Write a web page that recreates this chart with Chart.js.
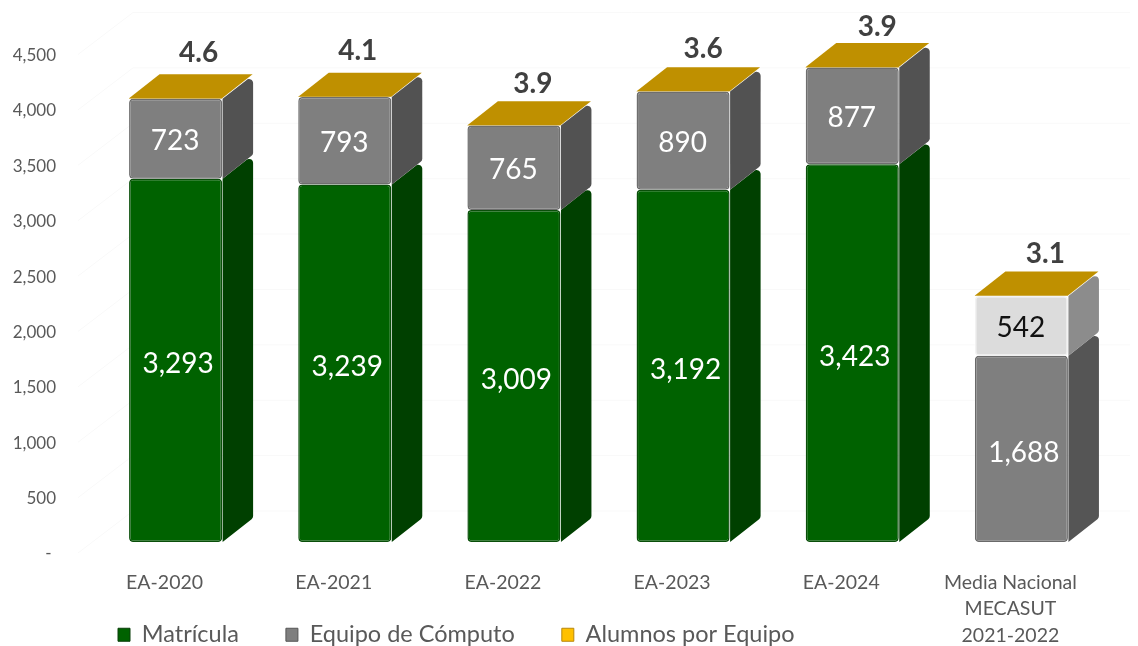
<!DOCTYPE html>
<html>
<head>
<meta charset="utf-8">
<style>html,body{margin:0;padding:0;background:#fff}canvas{display:block}</style>
<script src="https://cdn.jsdelivr.net/npm/chart.js@4"></script>
</head>
<body>
<canvas id="c" width="1138" height="646"></canvas>
<script>
const categories = ['EA-2020','EA-2021','EA-2022','EA-2023','EA-2024',['Media Nacional','MECASUT','2021-2022']];
const matricula = [3293,3239,3009,3192,3423,1688];
const equipoComputo = [723,793,765,890,877,542];
const alumnosPorEquipo = [4.6,4.1,3.9,3.6,3.9,3.1];
const yTickValues = [0,500,1000,1500,2000,2500,3000,3500,4000,4500];

const FONT = 'Lato';
const DEPTH_X = 30.5, DEPTH_Y = 24, BACK_R = 4;
const topNudgeX = [3,-7,-1,0,5,4];
const topNudgeY = [-1,-2,3,2,4,2];
const MEDIA = 5;
const front = [
  i => i===MEDIA ? '#7f7f7f' : '#006200',
  i => i===MEDIA ? '#dcdcdc' : '#7f7f7f',
  () => '#bf9000'
];
const side = [
  i => i===MEDIA ? '#555555' : '#004000',
  i => i===MEDIA ? '#8c8c8c' : '#525252',
  () => '#bf9000'
];
const edge = [
  i => i===MEDIA ? '#6a6a6a' : '#0a4f0a',
  i => i===MEDIA ? '#f2f2f2' : '#6e6e6e',
  () => '#bf9000'
];
const labelColor = [() => '#ffffff', i => i===MEDIA ? '#111111' : '#ffffff'];
const labelShiftX = [2.5,-0.5];
const labelShiftY = [4,2];
const legendFill = ['#006200','#7f7f7f','#ffc000'];
const legendEdge = ['#0a3f0a','#555555','#b8860b'];

const wallPlugin = {
  id:'wall',
  beforeDatasetsDraw(chart){
    const {ctx,scales:{yTick},chartArea} = chart;
    ctx.save();
    ctx.strokeStyle = '#f9f9f9';
    ctx.lineWidth = 1;
    yTickValues.forEach(v=>{
      const y = yTick.getPixelForValue(v);
      ctx.beginPath();
      ctx.moveTo(chartArea.left-13,y);
      ctx.lineTo(chartArea.left+42,y-42);
      ctx.lineTo(chartArea.right+24,y-42);
      ctx.stroke();
    });
    ctx.restore();
  }
};

const depthPlugin = {
  id:'depth',
  afterDatasetsDraw(chart){
    const {ctx} = chart;
    ctx.save();
    chart.data.datasets.forEach((ds,d)=>{
      chart.getDatasetMeta(d).data.forEach((bar,i)=>{
        const r = bar.x + bar.width/2, l = bar.x - bar.width/2;
        const t = bar.y, b = bar.base;
        const sx = r + 0.5;
        ctx.fillStyle = side[d](i);
        ctx.beginPath();
        if(d<2){
          ctx.moveTo(sx,t);
          ctx.arcTo(sx+DEPTH_X,t-DEPTH_Y,sx+DEPTH_X,b-DEPTH_Y,BACK_R);
          ctx.arcTo(sx+DEPTH_X,b-DEPTH_Y,sx,b,BACK_R);
          ctx.lineTo(sx,b);
        } else {
          ctx.moveTo(l,t);
          ctx.lineTo(l+DEPTH_X,t-DEPTH_Y);
          ctx.lineTo(r+DEPTH_X,t-DEPTH_Y);
          ctx.lineTo(r,t);
        }
        ctx.closePath();
        ctx.fill();
      });
    });
    ctx.textAlign='center';
    ctx.textBaseline='middle';
    [matricula,equipoComputo].forEach((arr,d)=>{
      chart.getDatasetMeta(d).data.forEach((bar,i)=>{
        ctx.font = '28px '+FONT;
        ctx.fillStyle = labelColor[d](i);
        ctx.fillText(arr[i].toLocaleString('en-US'), bar.x+labelShiftX[d], (bar.y+bar.base)/2+labelShiftY[d]);
      });
    });
    chart.getDatasetMeta(2).data.forEach((bar,i)=>{
      ctx.font = 'bold 28px '+FONT;
      ctx.fillStyle = '#404040';
      ctx.fillText(alumnosPorEquipo[i].toFixed(1), bar.x+20+topNudgeX[i], bar.y-44+topNudgeY[i]);
    });
    ctx.restore();
  }
};

const legendPlace = {
  id:'legendPlace',
  beforeDraw(chart){
    const lg = chart.legend, p = lg.options.labels.padding;
    const h = lg.height;
    lg.left = 118 - p;
    lg.right = lg.left + lg.width;
    lg.top = 623 - p;
    lg.bottom = lg.top + h;
  }
};

const corner = r => ({topLeft:r,topRight:r,bottomLeft:r,bottomRight:r});
const makeDs = (label,data,d)=>({
  label,data,xAxisID:'x',yAxisID:'yBar',stack:'s',
  backgroundColor:c=>front[d](c.dataIndex),
  borderColor:c=>edge[d](c.dataIndex),
  borderWidth:d<2?1.5:0,
  borderRadius:d<2?corner(4):corner(0),
  borderSkipped:false,
  barPercentage:0.55,categoryPercentage:1
});

new Chart(document.getElementById('c'),{
  type:'bar',
  data:{labels:categories,datasets:[
    makeDs('Matrícula',matricula,0),
    makeDs('Equipo de Cómputo',equipoComputo,1),
    makeDs('Alumnos por Equipo',alumnosPorEquipo,2)
  ]},
  plugins:[wallPlugin,depthPlugin,legendPlace],
  options:{
    responsive:false,animation:false,
    layout:{padding:{top:-26,right:32,left:0,bottom:0}},
    plugins:{
      tooltip:{enabled:false},
      legend:{
        position:'top',align:'start',
        labels:{
          boxWidth:12,boxHeight:13,padding:47,
          color:'#595959',font:{family:FONT,size:23.5},
          generateLabels(chart){
            return chart.data.datasets.map((ds,i)=>({
              text:ds.label,fillStyle:legendFill[i],strokeStyle:legendEdge[i],
              lineWidth:1,datasetIndex:i,fontColor:'#595959'
            }));
          }
        }
      }
    },
    scales:{
      x:{
        stacked:true,
        grid:{display:false},border:{display:false},
        afterFit(s){s.height=93;},
        ticks:{color:'#595959',font:{family:FONT,size:19.5,lineHeight:1.36},padding:8,labelOffset:-11,maxRotation:0,minRotation:0,autoSkip:false}
      },
      yBar:{display:false,stacked:true,min:-99.5,max:4418},
      yTick:{
        position:'left',min:0,max:4500,
        grid:{display:false},border:{display:false},
        afterFit(s){s.width=91;},
        ticks:{stepSize:500,color:'#595959',font:{family:FONT,size:17},padding:27,labelOffset:1,
          callback:v=>v===0?'- ':v.toLocaleString('en-US')}
      }
    }
  }
});
</script>
</body>
</html>
